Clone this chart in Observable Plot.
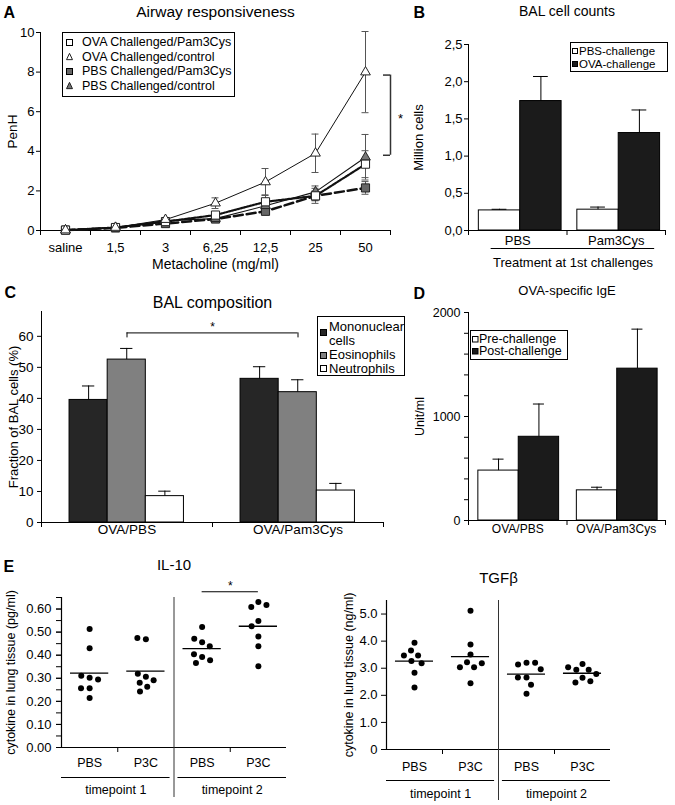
<!DOCTYPE html>
<html><head><meta charset="utf-8">
<script src="https://cdn.jsdelivr.net/npm/d3@7"></script>
<script src="https://cdn.jsdelivr.net/npm/@observablehq/plot@0.6"></script>
<style>
body{margin:0;background:#fff;font-family:"Liberation Sans",Arial,Helvetica,sans-serif;}
#fig{position:relative;width:675px;height:805px;overflow:hidden;background:#fff;}
.legend{position:absolute;border:1px solid #000;background:#fff;color:#000;box-sizing:border-box;}
</style></head><body><div id="fig"></div>
<script>
// ---------- DATA ----------
// Panel A: airway responsiveness (PenH)
const doses = ["saline","1,5","3","6,25","12,5","25","50"];
const seriesA = ["OVA Challenged/Pam3Cys","OVA Challenged/control","PBS Challenged/Pam3Cys","PBS Challenged/control"];
const penhOvaPam = [0.02,0.15,0.45,0.78,1.45,1.75,3.35];
const penhOvaCtl = [0.02,0.15,0.55,1.38,2.45,3.9,8.0];
const penhPbsPam = [0.02,0.13,0.35,0.58,0.97,1.75,2.15];
const penhPbsCtl = [0.02,0.15,0.5,0.6,1.25,1.95,3.7];
const errOvaPam = [0.02,0.05,0.1,0.15,0.35,0.38,0.68];
const errOvaCtl = [0.02,0.05,0.08,0.27,0.68,0.97,2.05];
const errPbsPam = [0.02,0.03,0.06,0.08,0.15,0.25,0.32];
const errPbsCtl = [0.02,0.04,0.08,0.1,0.3,0.3,1.15];

// Panel B: BAL cell counts (million cells)
const treatB = ["PBS","Pam3Cys"];
const seriesB = ["PBS-challenge","OVA-challenge"];
const cellsPbsCh = [0.27,0.28];
const errPbsCh = [0.015,0.035];
const cellsOvaCh = [1.74,1.31];
const errOvaCh = [0.33,0.31];

// Panel C: BAL composition (%)
const groupsC = ["OVA/PBS","OVA/Pam3Cys"];
const cellTypes = ["Mononuclear cells","Eosinophils","Neutrophils"];
const fracMono = [39.5,46.3];
const errMono = [4.5,3.9];
const fracEos = [52.5,42.0];
const errEos = [3.6,4.0];
const fracNeu = [8.5,10.3];
const errNeu = [1.6,2.3];

// Panel D: OVA-specific IgE (Unit/ml)
const groupsD = ["OVA/PBS","OVA/Pam3Cys"];
const seriesD = ["Pre-challenge","Post-challenge"];
const igePre = [480,290];
const errIgePre = [110,30];
const igePost = [805,1460];
const errIgePost = [315,380];

// Panel E: cytokines in lung tissue
const groupsE = ["PBS","P3C","PBS","P3C"];
const timepoints = ["timepoint 1","timepoint 2"];
const il10PbsT1 = [0.513,0.430,0.302,0.311,0.295,0.257,0.257,0.215];
const il10P3cT1 = [0.469,0.474,0.307,0.281,0.291,0.320,0.263,0.243];
const il10PbsT2 = [0.522,0.456,0.471,0.439,0.392,0.404,0.366,0.378];
const il10P3cT2 = [0.630,0.609,0.617,0.548,0.525,0.481,0.439,0.352];
const tgfPbsT1 = [3.94,3.65,3.47,3.47,3.27,3.18,2.83,2.29];
const tgfP3cT1 = [5.12,3.88,3.51,3.22,3.04,3.04,3.18,2.45];
const tgfPbsT2 = [3.20,3.14,3.20,2.96,2.66,2.66,2.39,2.06];
const tgfP3cT2 = [3.16,2.94,2.94,3.04,2.65,2.79,2.47,2.52];

// ---------- HELPERS ----------
const FONT = '"Liberation Sans", Arial, Helvetica, sans-serif';
const fig = document.getElementById("fig");
const baseStyle = {fontFamily: FONT, fontSize: "13px", background: "transparent", overflow: "visible", color: "#000"};
function place(plot, left, top) {
  plot.style.position = "absolute";
  plot.style.left = left + "px";
  plot.style.top = top + "px";
  fig.appendChild(plot);
}
const title = (t, dy, fs) => Plot.text([t], {frameAnchor: "top", dy, fontSize: fs, lineAnchor: "middle", textAnchor: "middle"});
const ylab = (t, dx, fs) => Plot.text([t], {frameAnchor: "left", dx, rotate: -90, fontSize: fs, lineAnchor: "middle", textAnchor: "middle"});
const letter = (t, dx, dy) => Plot.text([t], {frameAnchor: "top-left", dx, dy, fontSize: 16, fontWeight: "bold", lineAnchor: "middle", textAnchor: "start"});
const SVGNS = "http://www.w3.org/2000/svg";
function shapeSVG(kind, s, fill) {
  if (kind === "triangle") {
    const h = s * 0.9;
    return `<polygon points="${s/2+1},${1+(s-h)/2} ${s+0.5},${1+(s+h)/2} ${1.5},${1+(s+h)/2}" fill="${fill}" stroke="#222" stroke-width="1"/>`;
  }
  return `<rect x="1.5" y="1.5" width="${s-1}" height="${s-1}" fill="${fill}" stroke="#000" stroke-width="1"/>`;
}
function makeLegend(cfg) {
  const box = document.createElement("div");
  box.className = "legend";
  Object.assign(box.style, {left: cfg.left + "px", top: cfg.top + "px", width: cfg.width + "px", height: cfg.height + "px", fontSize: cfg.fontSize + "px"});
  const lh = cfg.lineHeight;
  cfg.items.forEach(it => {
    const s = cfg.sw;
    const sw = document.createElementNS(SVGNS, "svg");
    sw.setAttribute("width", s + 2); sw.setAttribute("height", s + 2);
    Object.assign(sw.style, {position: "absolute", left: (cfg.swX - s/2 - 1) + "px", top: (it.swY - s/2 - 1) + "px"});
    sw.innerHTML = shapeSVG(it.kind || "square", s, it.fill);
    box.appendChild(sw);
    const t = document.createElement("div");
    t.textContent = it.label;
    Object.assign(t.style, {position: "absolute", left: cfg.textX + "px", top: (it.y - lh/2) + "px", lineHeight: lh + "px",
      width: (cfg.width - cfg.textX - 2) + "px", whiteSpace: cfg.wrap ? "normal" : "nowrap"});
    box.appendChild(t);
  });
  fig.appendChild(box);
}
function swarm(vals, pxPerUnit, r, pad) {
  const d = 2 * r + pad, placed = [], out = new Array(vals.length);
  vals.forEach((v, i) => {
    const y = v * pxPerUnit;
    const cands = [0];
    for (const p of placed) {
      const dy = y - p.y;
      if (Math.abs(dy) < d) { const dx = Math.sqrt(d*d - dy*dy); cands.push(p.x + dx, p.x - dx); }
    }
    cands.sort((a, b) => Math.abs(a) - Math.abs(b) || a - b);
    for (const c of cands) {
      if (placed.every(p => (p.x - c) ** 2 + (p.y - y) ** 2 >= d * d - 1e-6)) { out[i] = c; placed.push({x: c, y}); break; }
    }
  });
  return out;
}

// ---------- PANEL A ----------
{
  const valsA = [penhOvaPam, penhOvaCtl, penhPbsPam, penhPbsCtl];
  const errsA = [errOvaPam, errOvaCtl, errPbsPam, errPbsCtl];
  const rows = [];
  seriesA.forEach((s, k) => doses.forEach((d, i) => rows.push({s, k, i, v: valsA[k][i], e: errsA[k][i]})));
  const sty = [
    {symbol: "square", r: 4.6, fill: "#fff", dash: "1.6,1.4", lw: 2.2},
    {symbol: "triangle", r: 3.6, fill: "#fff", dash: null, lw: 1},
    {symbol: "square", r: 4.6, fill: "#666", dash: "9,4", lw: 2.5},
    {symbol: "triangle", r: 3.6, fill: "#777", dash: null, lw: 1.1}
  ];
  const cap = 0.07;
  const sigLo = penhPbsCtl[6] + 0.1, sigHi = penhOvaCtl[6] - 0.15;
  const marks = [
    Plot.axisY({ticks: [0,2,4,6,8,10], tickSize: 4, tickPadding: 2, label: null, fontSize: 13}),
    Plot.axisX({ticks: d3.range(-0.5, 7, 1), tickSize: 5, tickFormat: () => "", label: null}),
    Plot.axisX({ticks: d3.range(7), tickSize: 0, tickPadding: 12, tickFormat: i => doses[i], label: null, fontSize: 13}),
    Plot.ruleX([-0.5], {stroke: "#000"}),
    Plot.ruleY([0], {stroke: "#000"}),
    Plot.ruleX(rows, {x: "i", y1: d => d.v - d.e, y2: d => d.v + d.e, stroke: "#555", strokeWidth: 1}),
    Plot.ruleY(rows, {y: d => d.v + d.e, x1: d => d.i - cap, x2: d => d.i + cap, stroke: "#555", strokeWidth: 1}),
    Plot.ruleY(rows, {y: d => d.v - d.e, x1: d => d.i - cap, x2: d => d.i + cap, stroke: "#555", strokeWidth: 1})
  ];
  [2, 0, 3, 1].forEach(k => {
    marks.push(Plot.line(rows.filter(d => d.k === k), {x: "i", y: "v", stroke: "#111", strokeWidth: sty[k].lw, strokeDasharray: sty[k].dash}));
  });
  [2, 3, 0, 1].forEach(k => {
    marks.push(Plot.dot(rows.filter(d => d.k === k), {x: "i", y: "v", symbol: sty[k].symbol, r: sty[k].r, fill: sty[k].fill, stroke: "#222", strokeWidth: 1}));
  });
  marks.push(
    Plot.ruleX([6.5], {y1: sigLo, y2: sigHi, stroke: "#333", strokeWidth: 1.5}),
    Plot.ruleY([sigLo, sigHi], {x1: 6.36, x2: 6.5, stroke: "#333", strokeWidth: 1.5}),
    Plot.text(["*"], {x: 6.5, y: (sigLo + sigHi) / 2 - 0.2, dx: 10, fontSize: 13}),
    title("Airway responsiveness", -20, 15.5),
    Plot.text(["Metacholine (mg/ml)"], {frameAnchor: "bottom", dy: 34, fontSize: 14, lineAnchor: "middle", textAnchor: "middle"}),
    ylab("PenH", -28, 13.5),
    letter("A", -37, -20)
  );
  const p = Plot.plot({width: 420, height: 270, marginLeft: 40, marginRight: 30, marginTop: 32, marginBottom: 40,
    style: baseStyle, x: {domain: [-0.5, 6.5]}, y: {domain: [0, 10]}, marks});
  place(p, 0, 0);
  makeLegend({left: 62, top: 32, width: 173, height: 65, fontSize: 12.5, lineHeight: 14.4, sw: 7, swX: 6.5, textX: 19,
    items: seriesA.map((s, k) => ({label: s, y: 9.5 + k * 14.4, swY: 9.5 + k * 14.4, kind: sty[k].symbol, fill: sty[k].fill}))});
}

// ---------- grouped bar helper ----------
function barRows(cats, valsList, errsList, series) {
  const rows = [];
  cats.forEach((c, i) => valsList.forEach((vals, j) => rows.push({c, i, j, s: series[j], v: vals[i], e: errsList[j][i]})));
  return rows;
}

// ---------- PANEL B ----------
{
  const rows = barRows(treatB, [cellsPbsCh, cellsOvaCh], [errPbsCh, errOvaCh], seriesB);
  const off = 0.105, bw = 0.42, cap = 0.075;
  const x1 = d => d.i + off + d.j * bw, xc = d => x1(d) + bw / 2;
  const lineX1 = 0.23, lineX2 = 1.89;
  const p = Plot.plot({width: 255, height: 270, marginLeft: 48, marginRight: 10, marginTop: 44, marginBottom: 40,
    style: baseStyle, x: {domain: [0, 2]}, y: {domain: [0, 2.5]},
    color: {domain: seriesB, range: ["#fff", "#1b1b1b"]},
    marks: [
      Plot.axisY({ticks: [0, 0.5, 1, 1.5, 2, 2.5], tickSize: 4, tickPadding: 2, tickFormat: d => d.toFixed(1).replace(".", ","), label: null, fontSize: 13}),
      Plot.axisX({ticks: [0, 1, 2], tickSize: 5, tickFormat: () => "", label: null}),
      Plot.axisX({ticks: [0.5, 1.5], tickSize: 0, tickPadding: 5, tickFormat: d => treatB[Math.floor(d)], label: null, fontSize: 13}),
      Plot.rectY(rows, {x1, x2: d => x1(d) + bw, y1: 0, y2: "v", fill: "s", stroke: "#000", strokeWidth: 1}),
      Plot.ruleX(rows, {x: xc, y1: "v", y2: d => d.v + d.e, stroke: "#000"}),
      Plot.ruleY(rows, {y: d => d.v + d.e, x1: d => xc(d) - cap, x2: d => xc(d) + cap, stroke: "#000"}),
      Plot.ruleX([0], {stroke: "#000"}),
      Plot.ruleY([0], {stroke: "#000"}),
      Plot.ruleY([0], {x1: lineX1, x2: lineX2, dy: 18, stroke: "#000"}),
      Plot.text(["Treatment at 1st challenges"], {x: (lineX1 + lineX2) / 2, y: 0, dy: 32, fontSize: 13}),
      title("BAL cell counts", -33, 14),
      ylab("Million cells", -50, 13),
      letter("B", -55, -32)
    ]});
  place(p, 420, 0);
  makeLegend({left: 570, top: 42, width: 98, height: 30, fontSize: 11.5, lineHeight: 13, sw: 6, swX: 3.5, textX: 8,
    items: seriesB.map((s, j) => ({label: s, y: 8 + j * 13.3, swY: 8 + j * 13.3, fill: j ? "#1b1b1b" : "#fff"}))});
}

// ---------- PANEL C ----------
{
  const fills = ["#262626", "#808080", "#fff"];
  const rows = barRows(groupsC, [fracMono, fracEos, fracNeu], [errMono, errEos, errNeu], cellTypes);
  const off = 0.164, bw = 0.223, cap = 0.036;
  const x1 = d => d.i + off + d.j * bw, xc = d => x1(d) + bw / 2;
  const sigY = d3.max(rows, d => d.v + d.e) + 5;
  const p = Plot.plot({width: 420, height: 280, marginLeft: 41, marginRight: 37, marginTop: 41, marginBottom: 28,
    style: baseStyle, x: {domain: [0, 2]}, y: {domain: [0, 68]},
    color: {domain: cellTypes, range: fills},
    marks: [
      Plot.axisY({ticks: d3.range(0, 61, 10), tickSize: 4, tickPadding: 4, label: null, fontSize: 13.5}),
      Plot.axisX({ticks: [0, 1, 2], tickSize: 5, tickFormat: () => "", label: null}),
      Plot.axisX({ticks: [0.5, 1.5], tickSize: 0, tickPadding: 2, tickFormat: d => groupsC[Math.floor(d)], label: null, fontSize: 13.5}),
      Plot.rectY(rows, {x1, x2: d => x1(d) + bw, y1: 0, y2: "v", fill: "s", stroke: "#000", strokeWidth: 1}),
      Plot.ruleX(rows, {x: xc, y1: "v", y2: d => d.v + d.e, stroke: "#000"}),
      Plot.ruleY(rows, {y: d => d.v + d.e, x1: d => xc(d) - cap, x2: d => xc(d) + cap, stroke: "#000"}),
      Plot.ruleX([0], {stroke: "#000"}),
      Plot.ruleY([0], {stroke: "#000"}),
      Plot.ruleY([sigY], {x1: 0.5, x2: 1.5, stroke: "#000"}),
      Plot.ruleX([0.5, 1.5], {y1: sigY, y2: sigY - 1.6, stroke: "#000"}),
      Plot.text(["*"], {x: 1, y: sigY, dy: -6, fontSize: 12}),
      title("BAL composition", -9, 16),
      ylab("Fraction of BAL cells (%)", -28, 13),
      letter("C", -37, -19)
    ]});
  place(p, 0, 270);
  makeLegend({left: 317, top: 316, width: 88, height: 60, fontSize: 13, lineHeight: 13.5, sw: 7, swX: 5.5, textX: 11, wrap: true,
    items: [
      {label: cellTypes[0], y: 10, swY: 15.5, fill: fills[0]},
      {label: cellTypes[1], y: 38, swY: 38, fill: fills[1]},
      {label: cellTypes[2], y: 51.5, swY: 51.5, fill: fills[2]}
    ]});
}

// ---------- PANEL D ----------
{
  const rows = barRows(groupsD, [igePre, igePost], [errIgePre, errIgePost], seriesD);
  const off = 0.1, bw = 0.41, cap = 0.056;
  const x1 = d => d.i + off + d.j * bw, xc = d => x1(d) + bw / 2;
  const p = Plot.plot({width: 255, height: 280, marginLeft: 48, marginRight: 10, marginTop: 42, marginBottom: 30,
    style: baseStyle, x: {domain: [0, 2]}, y: {domain: [0, 2000]},
    color: {domain: seriesD, range: ["#fff", "#1b1b1b"]},
    marks: [
      Plot.axisY({ticks: d3.range(0, 2001, 200), tickSize: 4, tickFormat: () => "", label: null}),
      Plot.axisY({ticks: [0, 1000, 2000], tickSize: 4, tickPadding: 4, label: null, fontSize: 12.5, tickFormat: d => String(d)}),
      Plot.axisX({ticks: [0, 1, 2], tickSize: 5, tickFormat: () => "", label: null}),
      Plot.axisX({ticks: [0.5, 1.5], tickSize: 0, tickPadding: 4, tickFormat: d => groupsD[Math.floor(d)], label: null, fontSize: 12}),
      Plot.rectY(rows, {x1, x2: d => x1(d) + bw, y1: 0, y2: "v", fill: "s", stroke: "#000", strokeWidth: 1}),
      Plot.ruleX(rows, {x: xc, y1: "v", y2: d => d.v + d.e, stroke: "#000"}),
      Plot.ruleY(rows, {y: d => d.v + d.e, x1: d => xc(d) - cap, x2: d => xc(d) + cap, stroke: "#000"}),
      Plot.ruleX([0], {stroke: "#000"}),
      Plot.ruleY([0], {stroke: "#000"}),
      title("OVA-specific IgE", -22, 13),
      ylab("Unit/ml", -49, 12.5),
      letter("D", -55, -19)
    ]});
  place(p, 420, 270);
  makeLegend({left: 470, top: 330, width: 98, height: 30, fontSize: 12.5, lineHeight: 12.5, sw: 6.5, swX: 4, textX: 8,
    items: seriesD.map((s, j) => ({label: s, y: 8 + j * 12.7, swY: 8 + j * 12.7, fill: j ? "#1b1b1b" : "#fff"}))});
}

// ---------- PANEL E ----------
function dotPanel(cfg) {
  const {lists, width, height, mL, mR, mT, mB, yMax} = cfg;
  const pxY = (height - mT - mB) / yMax;
  const band = (width - mL - mR) / 4;
  const pts = [], means = [];
  lists.forEach((vals, g) => {
    const offs = swarm(vals, pxY, 3, 2.6);
    vals.forEach((v, k) => pts.push({g, v, x: g + 0.5 + offs[k] / band}));
    means.push({g, m: d3.mean(vals)});
  });
  const gap = 0.07;
  const grp = timepoints.map((t, k) => ({t, a: 2 * k + (k ? gap : 0), b: 2 * k + 2 - (k ? 0 : gap)}));
  const marks = [
    ...cfg.yAxes,
    Plot.axisX({ticks: [1, 3], tickSize: 5, tickFormat: () => "", label: null}),
    Plot.axisX({ticks: [0.5, 1.5, 2.5, 3.5], tickSize: 0, tickPadding: cfg.catPad, tickFormat: d => groupsE[Math.floor(d)], label: null, fontSize: 12.5}),
    Plot.ruleX([0], {stroke: "#000", strokeWidth: 1.2}),
    Plot.ruleY([0], {stroke: "#000", strokeWidth: 1.2}),
    Plot.ruleX([2], {stroke: "#333", strokeWidth: 1, insetBottom: -cfg.divExt}),
    Plot.ruleY(grp, {y: () => 0, x1: "a", x2: "b", dy: cfg.grpLineDy, stroke: "#000", strokeWidth: 1.2}),
    Plot.text(grp, {x: d => (d.a + d.b) / 2, y: () => 0, text: "t", dy: cfg.grpTextDy, fontSize: 12.5}),
    Plot.dot(pts, {x: "x", y: "v", r: 3, fill: "#000", stroke: "none"}),
    Plot.ruleY(means, {y: "m", x1: d => d.g + 0.5 - 0.34, x2: d => d.g + 0.5 + 0.34, stroke: "#000", strokeWidth: 1.4}),
    title(cfg.title, cfg.titleDy, 15),
    ylab(cfg.ylabel, cfg.ylabDx, 12.5),
    ...(cfg.extra ? cfg.extra(means) : [])
  ];
  return Plot.plot({width, height, marginLeft: mL, marginRight: mR, marginTop: mT, marginBottom: mB,
    style: baseStyle, x: {domain: [0, 4]}, y: {domain: [0, yMax]}, marks});
}
{
  const pIL = dotPanel({
    lists: [il10PbsT1, il10P3cT1, il10PbsT2, il10P3cT2], width: 340, height: 255, mL: 61, mR: 54, mT: 47, mB: 58, yMax: 0.65,
    yAxes: [
      Plot.axisY({ticks: d3.range(0, 0.651, 0.05), tickSize: 5, tickFormat: () => "", label: null}),
      Plot.axisY({ticks: d3.range(0, 0.61, 0.1), tickSize: 5, tickPadding: 5, tickFormat: d3.format(".2f"), label: null, fontSize: 13})
    ],
    catPad: 11, divExt: 50, grpLineDy: 30, grpTextDy: 42, titleDy: -32, ylabDx: -51,
    title: "IL-10", ylabel: "cytokine in lung tissue (pg/ml)",
    extra: () => {
      const sy = d3.max(il10P3cT2) + 0.045;
      return [
        Plot.ruleY([sy], {x1: 2.5, x2: 3.5, stroke: "#000", strokeWidth: 1.2}),
        Plot.text(["*"], {x: 3, y: sy, dy: -6, fontSize: 12}),
        letter("E", -58, -31)
      ];
    }
  });
  place(pIL, 0, 550);
  const pTG = dotPanel({
    lists: [tgfPbsT1, tgfP3cT1, tgfPbsT2, tgfP3cT2], width: 335, height: 255, mL: 46, mR: 65, mT: 50, mB: 56, yMax: 5.5,
    yAxes: [
      Plot.axisY({ticks: [0, 1, 2, 3, 4, 5], tickSize: 5, tickPadding: 4, tickFormat: d => d === 0 ? "0" : d.toFixed(1), label: null, fontSize: 13})
    ],
    catPad: 13, divExt: 51, grpLineDy: 31, grpTextDy: 44, titleDy: -22, ylabDx: -38,
    title: "TGFβ", ylabel: "cytokine in lung tissue (ng/ml)"
  });
  place(pTG, 340, 550);
}
</script></body></html>
